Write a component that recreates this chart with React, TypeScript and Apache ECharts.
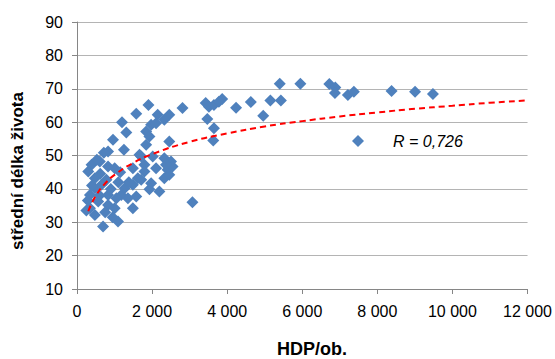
import React, { useEffect, useRef } from "react";
import * as echarts from "echarts";

const hdp = [
  5950, 6720, 6880, 6870, 7215, 7374, 8378, 9005, 9480, 5400, 4630, 5150, 5430, 4960,
  2810, 3428, 3515, 3647, 3867, 3779, 3471, 3647, 3629, 4237, 3074,
  1903, 1578, 1198, 1314, 2149, 2458, 2326, 1974, 1842, 1929, 2458, 959, 827, 1250, 2106,
  1842, 1710, 2017, 2326, 2503, 388, 608, 827, 1797,
  1004, 785, 476, 344, 344, 476, 695, 1092, 1488, 827, 1004, 1181, 1269, 1488, 1620, 1797,
  1974, 2194, 2326, 2414, 2546, 2106, 564, 652, 827, 1049, 1356, 1578, 299, 476, 1488, 1710,
  1929, 2458, 2370, 1665, 250, 530, 714, 900, 1100, 600, 750, 950, 1150, 400, 290, 620, 1380
];
const life = [
  71.5, 71.4, 70.4, 68.7, 68.1, 69.1, 69.3, 69.1, 68.4, 71.5, 66.0, 66.5, 66.5, 61.9,
  64.2, 65.7, 64.6, 65.1, 66.9, 66.1, 60.9, 58.2, 54.5, 64.3, 36.0,
  65.1, 62.5, 60.0, 56.9, 62.2, 62.2, 60.7, 59.2, 57.2, 55.7, 54.2, 54.7, 51.2, 51.7, 59.7,
  53.2, 49.7, 49.7, 49.2, 48.2, 47.2, 48.2, 46.7, 47.2,
  46.2, 42.7, 40.2, 38.2, 34.2, 32.2, 28.7, 30.2, 34.2, 35.2, 34.2, 38.2, 40.2, 41.2, 43.2, 45.2,
  41.7, 39.2, 43.2, 45.7, 46.7, 46.2, 36.2, 41.2, 38.2, 37.2, 37.2, 37.7, 45.2, 43.2, 46.2, 42.7,
  39.9, 44.2, 47.2, 50.2, 33.5, 48.7, 50.8, 40.0, 42.0, 38.0, 33.0, 31.5, 45.0, 41.0, 36.5, 44.5, 42.0
];

const trendX = [300, 500, 750, 1000, 1500, 2000, 3000, 4000, 5000, 6000, 7000, 8000, 9000, 10000, 11000, 12000];
const trendY = [33.3, 37.9, 41.6, 44.2, 47.8, 50.4, 54.1, 56.6, 58.7, 60.3, 61.7, 62.9, 64.0, 64.9, 65.8, 66.5];

const seriesName = "R = 0,726";
const xTitle = "HDP/ob.";
const yTitle = "střední délka života";

const FONT = "'Liberation Sans', Arial, sans-serif";

export default function App() {
  const ref = useRef<HTMLDivElement>(null);
  useEffect(() => {
    if (!ref.current) return;
    const chart = echarts.init(ref.current, null, { renderer: "svg" });
    const points = hdp.map((x, i) => [x, life[i]]);
    const trend = trendX.map((x, i) => [x, trendY[i]]);
    chart.setOption({
      animation: false,
      backgroundColor: "#ffffff",
      textStyle: { fontFamily: FONT },
      grid: { left: 77, right: 24, top: 22, bottom: 70 },
      legend: {
        data: [{ name: seriesName, icon: "diamond" }],
        left: 347,
        top: 128,
        itemWidth: 12,
        itemHeight: 12,
        textStyle: {
          fontFamily: FONT,
          fontSize: 16,
          fontStyle: "italic",
          color: "#000",
          padding: [0, 0, 0, 24],
        },
      },
      graphic: [
        {
          type: "text",
          x: 17,
          y: 171,
          rotation: Math.PI / 2,
          style: {
            text: yTitle,
            fontFamily: FONT,
            fontSize: 17,
            fontWeight: "bold",
            fill: "#000",
            align: "center",
            verticalAlign: "middle",
          },
        },
        {
          type: "text",
          x: 312,
          y: 349,
          style: {
            text: xTitle,
            fontFamily: FONT,
            fontSize: 18,
            fontWeight: "bold",
            fill: "#000",
            align: "center",
            verticalAlign: "middle",
          },
        },
      ],
      xAxis: {
        type: "value",
        min: 0,
        max: 12000,
        interval: 2000,
        axisLine: { show: true, lineStyle: { color: "#868686", width: 1 } },
        axisTick: { show: true, length: 5, lineStyle: { color: "#868686" } },
        axisLabel: {
          fontFamily: FONT,
          fontSize: 16,
          color: "#000",
          margin: 14,
          formatter: (v: number) => String(v).replace(/\B(?=(\d{3})+(?!\d))/g, " "),
        },
        splitLine: { show: false },
      },
      yAxis: {
        type: "value",
        min: 10,
        max: 90,
        interval: 10,
        axisLine: { show: true, lineStyle: { color: "#868686", width: 1 } },
        axisTick: { show: true, length: 5, lineStyle: { color: "#868686" } },
        axisLabel: { fontFamily: FONT, fontSize: 16, color: "#000", margin: 14 },
        splitLine: { show: true, lineStyle: { color: "#b4b4b4", width: 1 } },
      },
      series: [
        {
          name: seriesName,
          type: "scatter",
          data: points,
          symbol: "diamond",
          symbolSize: 12,
          itemStyle: { color: "#4f81bd", opacity: 1 },
          z: 2,
        },
        {
          name: "trend",
          type: "line",
          data: trend,
          smooth: true,
          showSymbol: false,
          symbol: "none",
          lineStyle: { color: "#ff0000", width: 2, type: [6, 4] },
          z: 3,
        },
      ],
    });
    return () => chart.dispose();
  }, []);
  return (
    <div
      ref={ref}
      style={{ position: "fixed", left: 0, top: 0, width: 555, height: 359, background: "#fff" }}
    />
  );
}
